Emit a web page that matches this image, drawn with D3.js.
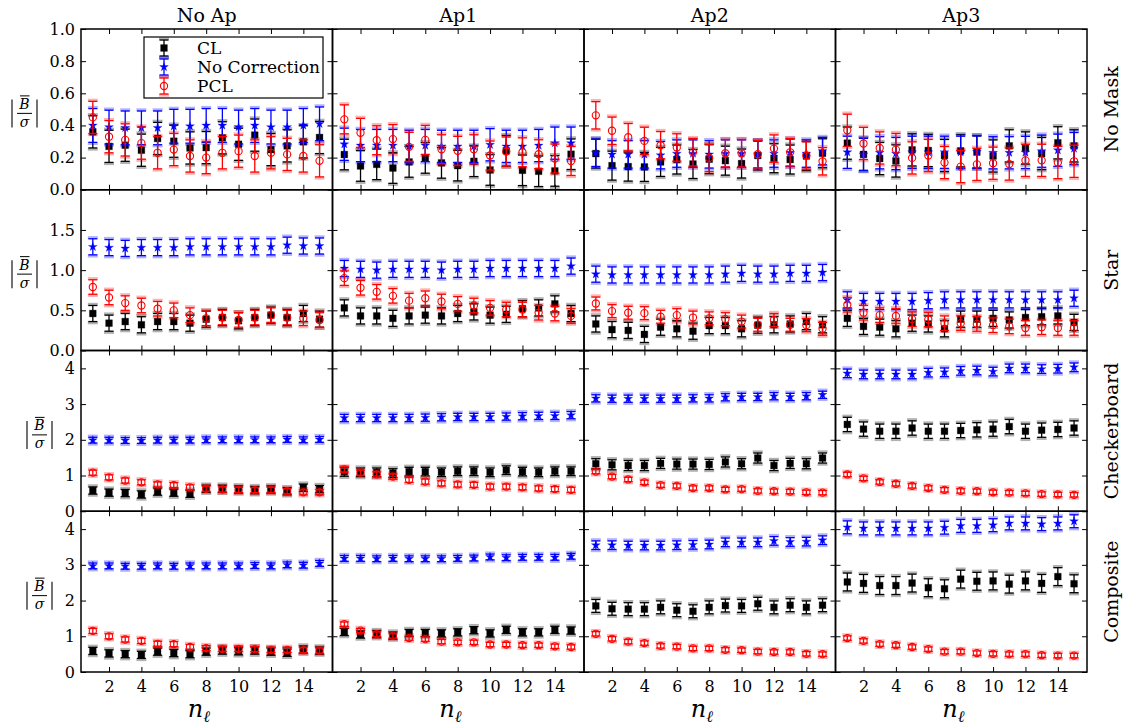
<!DOCTYPE html>
<html>
<head>
<meta charset="utf-8">
<script src="https://cdn.jsdelivr.net/npm/d3@7"></script>
<style>
  body { margin: 0; background: #fff; }
  text { font-family: "DejaVu Serif", serif; fill: #000; }
</style>
</head>
<body>
<svg id="chart" width="1128" height="727"></svg>
<script>
// ---- data ----------------------------------------------------------------
const nl = [1, 2, 3, 4, 5, 6, 7, 8, 9, 10, 11, 12, 13, 14, 15];
const apertures = ["No Ap", "Ap1", "Ap2", "Ap3"];
const masks = ["No Mask", "Star", "Checkerboard", "Composite"];
const seriesNames = ["CL", "No Correction", "PCL"];

const yMax = [1.0, 2.0, 4.5, 4.5];
const yTicks = [[0, 0.2, 0.4, 0.6, 0.8, 1.0], [0, 0.5, 1.0, 1.5], [0, 1, 2, 3, 4], [0, 1, 2, 3, 4]];
const yTickLabels = [["0.0", "0.2", "0.4", "0.6", "0.8", "1.0"], ["0.0", "0.5", "1.0", "1.5"],
                     ["0", "1", "2", "3", "4"], ["0", "1", "2", "3", "4"]];
const xTicks = [2, 4, 6, 8, 10, 12, 14];
const xTickLabels = ["2", "4", "6", "8", "10", "12", "14"];

// No Mask row: one array per aperture column
const clNoMask = [
  [0.36, 0.27, 0.277, 0.246, 0.319, 0.302, 0.26, 0.262, 0.323, 0.283, 0.34, 0.25, 0.273, 0.298, 0.325],
  [0.219, 0.148, 0.158, 0.135, 0.173, 0.198, 0.167, 0.15, 0.177, 0.123, 0.242, 0.121, 0.115, 0.117, 0.221],
  [0.225, 0.15, 0.144, 0.142, 0.173, 0.188, 0.16, 0.19, 0.181, 0.163, 0.213, 0.196, 0.188, 0.21, 0.227],
  [0.29, 0.22, 0.194, 0.179, 0.248, 0.244, 0.213, 0.242, 0.235, 0.21, 0.273, 0.26, 0.225, 0.292, 0.273]
];
const ncNoMask = [
  [0.40, 0.39, 0.385, 0.385, 0.385, 0.395, 0.395, 0.40, 0.40, 0.39, 0.40, 0.39, 0.39, 0.40, 0.41],
  [0.283, 0.275, 0.275, 0.275, 0.27, 0.275, 0.27, 0.27, 0.27, 0.28, 0.27, 0.27, 0.275, 0.29, 0.29],
  [0.23, 0.22, 0.22, 0.22, 0.215, 0.225, 0.225, 0.22, 0.225, 0.225, 0.22, 0.225, 0.23, 0.225, 0.24],
  [0.233, 0.22, 0.23, 0.225, 0.233, 0.233, 0.233, 0.233, 0.235, 0.23, 0.23, 0.232, 0.24, 0.246, 0.256]
];
const pclNoMask = [
  [0.45, 0.33, 0.31, 0.29, 0.23, 0.25, 0.21, 0.20, 0.23, 0.24, 0.21, 0.23, 0.22, 0.21, 0.18],
  [0.438, 0.354, 0.308, 0.315, 0.267, 0.31, 0.252, 0.242, 0.252, 0.213, 0.238, 0.233, 0.221, 0.194, 0.179],
  [0.463, 0.367, 0.327, 0.304, 0.277, 0.263, 0.233, 0.198, 0.227, 0.227, 0.221, 0.256, 0.233, 0.213, 0.177],
  [0.37, 0.288, 0.26, 0.25, 0.198, 0.213, 0.169, 0.144, 0.158, 0.165, 0.16, 0.183, 0.183, 0.169, 0.177]
];

// Star mask row
const clStar = [
  [0.46, 0.34, 0.36, 0.32, 0.36, 0.36, 0.34, 0.39, 0.41, 0.37, 0.41, 0.44, 0.41, 0.46, 0.39],
  [0.53, 0.43, 0.43, 0.40, 0.43, 0.44, 0.43, 0.46, 0.48, 0.44, 0.45, 0.52, 0.53, 0.58, 0.46],
  [0.33, 0.26, 0.25, 0.20, 0.29, 0.27, 0.24, 0.31, 0.31, 0.27, 0.315, 0.32, 0.33, 0.36, 0.32],
  [0.40, 0.30, 0.29, 0.27, 0.34, 0.33, 0.27, 0.39, 0.39, 0.40, 0.38, 0.41, 0.42, 0.43, 0.35]
];
const ncStar = [
  [1.29, 1.28, 1.27, 1.28, 1.28, 1.28, 1.29, 1.29, 1.29, 1.29, 1.29, 1.29, 1.31, 1.30, 1.30],
  [1.02, 1.01, 1.00, 1.01, 1.01, 1.01, 1.00, 1.01, 1.01, 1.02, 1.02, 1.02, 1.02, 1.02, 1.05],
  [0.95, 0.94, 0.94, 0.94, 0.94, 0.94, 0.94, 0.94, 0.95, 0.96, 0.95, 0.95, 0.96, 0.96, 0.97],
  [0.63, 0.61, 0.61, 0.61, 0.61, 0.62, 0.63, 0.63, 0.63, 0.63, 0.63, 0.63, 0.63, 0.63, 0.65]
];
const pclStar = [
  [0.79, 0.66, 0.59, 0.56, 0.52, 0.50, 0.44, 0.40, 0.41, 0.38, 0.41, 0.44, 0.41, 0.40, 0.38],
  [0.90, 0.78, 0.73, 0.68, 0.62, 0.65, 0.61, 0.58, 0.56, 0.53, 0.51, 0.51, 0.47, 0.46, 0.43],
  [0.585, 0.49, 0.47, 0.465, 0.42, 0.44, 0.41, 0.40, 0.39, 0.36, 0.32, 0.38, 0.32, 0.315, 0.27],
  [0.57, 0.47, 0.44, 0.43, 0.39, 0.385, 0.34, 0.34, 0.33, 0.315, 0.30, 0.28, 0.29, 0.28, 0.28]
];

// Checkerboard mask row
const clCheck = [
  [0.58, 0.52, 0.51, 0.47, 0.55, 0.52, 0.49, 0.63, 0.63, 0.61, 0.59, 0.61, 0.56, 0.66, 0.62],
  [1.10, 1.09, 1.09, 1.07, 1.11, 1.11, 1.09, 1.12, 1.12, 1.09, 1.15, 1.11, 1.09, 1.12, 1.12],
  [1.33, 1.30, 1.28, 1.28, 1.34, 1.32, 1.32, 1.31, 1.38, 1.33, 1.49, 1.28, 1.34, 1.33, 1.49],
  [2.43, 2.30, 2.24, 2.24, 2.33, 2.24, 2.24, 2.26, 2.28, 2.30, 2.37, 2.24, 2.27, 2.29, 2.33]
];
const ncCheck = [
  [1.99, 1.99, 1.98, 1.98, 1.99, 1.99, 1.99, 2.00, 2.00, 2.00, 2.00, 2.00, 2.01, 2.00, 2.01],
  [2.61, 2.61, 2.61, 2.61, 2.61, 2.62, 2.63, 2.64, 2.64, 2.64, 2.65, 2.66, 2.67, 2.67, 2.69],
  [3.16, 3.15, 3.15, 3.15, 3.15, 3.15, 3.16, 3.16, 3.19, 3.20, 3.20, 3.22, 3.20, 3.22, 3.26],
  [3.86, 3.83, 3.83, 3.83, 3.83, 3.88, 3.89, 3.93, 3.94, 3.91, 4.00, 4.00, 3.98, 3.99, 4.03]
];
const pclCheck = [
  [1.08, 0.95, 0.86, 0.81, 0.75, 0.73, 0.67, 0.63, 0.61, 0.60, 0.59, 0.60, 0.56, 0.53, 0.53],
  [1.17, 1.08, 1.03, 0.97, 0.88, 0.83, 0.78, 0.75, 0.74, 0.69, 0.69, 0.67, 0.64, 0.62, 0.60],
  [1.11, 0.97, 0.89, 0.81, 0.73, 0.71, 0.65, 0.65, 0.61, 0.62, 0.57, 0.56, 0.55, 0.53, 0.52],
  [1.03, 0.92, 0.82, 0.77, 0.71, 0.65, 0.60, 0.57, 0.56, 0.53, 0.52, 0.50, 0.48, 0.47, 0.46]
];

// Composite mask row
const clComp = [
  [0.59, 0.52, 0.50, 0.48, 0.57, 0.53, 0.50, 0.57, 0.60, 0.58, 0.60, 0.57, 0.54, 0.63, 0.60],
  [1.12, 1.05, 1.06, 1.02, 1.09, 1.09, 1.08, 1.11, 1.17, 1.08, 1.18, 1.11, 1.11, 1.18, 1.16],
  [1.85, 1.77, 1.76, 1.76, 1.81, 1.73, 1.70, 1.81, 1.86, 1.85, 1.91, 1.81, 1.87, 1.81, 1.87],
  [2.52, 2.48, 2.42, 2.42, 2.49, 2.36, 2.33, 2.60, 2.54, 2.55, 2.46, 2.55, 2.48, 2.67, 2.47]
];
const ncComp = [
  [2.97, 2.97, 2.96, 2.96, 2.97, 2.96, 2.97, 2.97, 2.97, 2.97, 2.98, 2.97, 3.00, 2.99, 3.04],
  [3.18, 3.18, 3.17, 3.18, 3.17, 3.17, 3.17, 3.18, 3.19, 3.22, 3.20, 3.21, 3.21, 3.21, 3.24],
  [3.55, 3.55, 3.54, 3.54, 3.54, 3.55, 3.56, 3.57, 3.63, 3.63, 3.63, 3.67, 3.64, 3.65, 3.69],
  [4.05, 4.02, 4.02, 4.02, 4.02, 4.02, 4.04, 4.09, 4.09, 4.11, 4.16, 4.16, 4.14, 4.16, 4.22]
];
const pclComp = [
  [1.15, 1.00, 0.91, 0.87, 0.79, 0.78, 0.70, 0.67, 0.65, 0.65, 0.64, 0.62, 0.62, 0.61, 0.60],
  [1.34, 1.16, 1.06, 1.01, 0.95, 0.92, 0.85, 0.83, 0.83, 0.77, 0.77, 0.75, 0.75, 0.72, 0.70],
  [1.07, 0.93, 0.85, 0.81, 0.73, 0.71, 0.66, 0.66, 0.62, 0.61, 0.57, 0.56, 0.56, 0.51, 0.50],
  [0.95, 0.87, 0.78, 0.75, 0.70, 0.64, 0.57, 0.57, 0.53, 0.51, 0.50, 0.50, 0.47, 0.46, 0.46]
];

// 1-sigma error half-widths: [mask row][aperture column]
const clErr  = [[0.10, 0.095, 0.09, 0.10], [0.10, 0.10, 0.10, 0.10], [0.10, 0.12, 0.14, 0.20], [0.10, 0.10, 0.18, 0.25]];
const ncErr  = [[0.105, 0.10, 0.085, 0.10], [0.10, 0.10, 0.10, 0.10], [0.08, 0.10, 0.10, 0.12], [0.08, 0.08, 0.12, 0.18]];
const pclErr = [[0.10, 0.09, 0.085, 0.10], [0.09, 0.09, 0.08, 0.09], [0.07, 0.07, 0.06, 0.06], [0.07, 0.06, 0.06, 0.06]];

// ---- layout --------------------------------------------------------------
const svg = d3.select("#chart");
const plotLeft = 81, plotTop = 29;
const pw = 251.5, ph = 160.75;
const xDomain = [0.27, 15.8];
const x = d3.scaleLinear().domain(xDomain).range([0, pw]);

const series = [
  { name: seriesNames[0], rows: [clNoMask, clStar, clCheck, clComp], err: clErr, color: "#000000", marker: "square" },
  { name: seriesNames[1], rows: [ncNoMask, ncStar, ncCheck, ncComp], err: ncErr, color: "#0000ff", marker: "star" },
  { name: seriesNames[2], rows: [pclNoMask, pclStar, pclCheck, pclComp], err: pclErr, color: "#ff0000", marker: "circle" }
];

const capHalf = 4.5;

function drawMarker(g, s, cx, cy) {
  if (s.marker === "circle") {
    g.append("circle").attr("cx", cx).attr("cy", cy).attr("r", 3.6)
      .attr("fill", "none").attr("stroke", s.color).attr("stroke-width", 1.1);
  } else {
    const sym = s.marker === "square" ? d3.symbolSquare : d3.symbolStar;
    const size = s.marker === "square" ? 46 : 24;
    g.append("path").attr("d", d3.symbol().type(sym).size(size)())
      .attr("transform", `translate(${cx},${cy})`)
      .attr("fill", s.color).attr("stroke", s.color).attr("stroke-width", 0.3);
  }
}

function drawErrorBar(g, color, cx, yTop, yBot) {
  g.append("line").attr("x1", cx).attr("x2", cx).attr("y1", yTop).attr("y2", yBot)
    .attr("stroke", color).attr("stroke-width", 1.3);
  [[yTop, -1.2], [yBot, 1.2]].forEach(([yy, off]) => {
    g.append("line").attr("x1", cx - capHalf - 0.5).attr("x2", cx + capHalf + 0.5)
      .attr("y1", yy + off).attr("y2", yy + off)
      .attr("stroke", color).attr("stroke-opacity", 0.3).attr("stroke-width", 3);
    g.append("line").attr("x1", cx - capHalf).attr("x2", cx + capHalf)
      .attr("y1", yy).attr("y2", yy)
      .attr("stroke", color).attr("stroke-width", 1.3);
  });
}

function styleAxis(a) {
  a.select(".domain").remove();
  a.selectAll(".tick line").attr("stroke", "#000").attr("stroke-width", 1);
  a.selectAll(".tick text").style("font-family", "'DejaVu Serif', serif")
    .attr("font-size", 16).attr("fill", "#000");
}

// y-axis label |B̄/σ|: bars and rules as lines, numerator and denominator as text
function drawYLabel(xRight, cy) {
  const x0 = xRight - 27;
  const g = svg.append("g").attr("transform", `translate(${x0},${cy})`);
  g.append("line").attr("x1", 1).attr("x2", 1).attr("y1", -14).attr("y2", 14)
    .attr("stroke", "#000").attr("stroke-width", 1.1);
  g.append("line").attr("x1", 26).attr("x2", 26).attr("y1", -14).attr("y2", 14)
    .attr("stroke", "#000").attr("stroke-width", 1.1);
  g.append("line").attr("x1", 9).attr("x2", 18.5).attr("y1", -17.5).attr("y2", -17.5)
    .attr("stroke", "#000").attr("stroke-width", 1);
  g.append("line").attr("x1", 6).attr("x2", 21).attr("y1", 0).attr("y2", 0)
    .attr("stroke", "#000").attr("stroke-width", 1);
  g.append("text").attr("x", 13.5).attr("y", -4.5).attr("text-anchor", "middle")
    .attr("font-size", 14).attr("font-style", "italic").text("B");
  g.append("text").attr("x", 13.5).attr("y", 13.5).attr("text-anchor", "middle")
    .attr("font-size", 14).attr("font-style", "italic").text("σ");
}

masks.forEach((mask, r) => {
  const y = d3.scaleLinear().domain([0, yMax[r]]).range([ph, 0]);
  apertures.forEach((ap, c) => {
    const g = svg.append("g").attr("transform", `translate(${plotLeft + c * pw},${plotTop + r * ph})`);

    // inward ticks on all four sides
    const left = g.append("g").call(d3.axisLeft(y).tickValues(yTicks[r]).tickSize(-5).tickPadding(6)
      .tickFormat((d, i) => c === 0 ? yTickLabels[r][i] : ""));
    styleAxis(left);
    const right = g.append("g").attr("transform", `translate(${pw},0)`)
      .call(d3.axisRight(y).tickValues(yTicks[r]).tickSize(-5).tickFormat(""));
    styleAxis(right);
    const topAx = g.append("g").call(d3.axisTop(x).tickValues(xTicks).tickSize(-5).tickFormat(""));
    styleAxis(topAx);
    const bottom = g.append("g").attr("transform", `translate(0,${ph})`)
      .call(d3.axisBottom(x).tickValues(xTicks).tickSize(-5).tickPadding(9)
        .tickFormat((d, i) => r === masks.length - 1 ? xTickLabels[i] : ""));
    styleAxis(bottom);

    // error bars and markers
    series.forEach(s => {
      const vals = s.rows[r][c];
      const e = s.err[r][c];
      const sg = g.append("g");
      vals.forEach((v, i) => {
        drawErrorBar(sg, s.color, x(nl[i]), y(v + e), y(v - e));
      });
      vals.forEach((v, i) => drawMarker(sg, s, x(nl[i]), y(v)));
    });

    // frame
    g.append("rect").attr("width", pw).attr("height", ph)
      .attr("fill", "none").attr("stroke", "#000").attr("stroke-width", 1.5);

    if (r === 0) {
      svg.append("text").attr("x", plotLeft + c * pw + pw / 2).attr("y", 22)
        .attr("text-anchor", "middle").attr("font-size", 19).text(ap);
    }
    if (r === masks.length - 1) {
      const t = svg.append("text").attr("x", plotLeft + c * pw + pw / 2 - 8).attr("y", 717)
        .attr("text-anchor", "middle");
      t.append("tspan").attr("font-size", 24).attr("font-style", "italic").text("n");
      t.append("tspan").attr("font-size", 16).attr("font-style", "italic").attr("dy", 5).text("ℓ");
    }
  });

  // row label on the right
  svg.append("text")
    .attr("transform", `translate(${plotLeft + 4 * pw + 31},${plotTop + r * ph + ph / 2}) rotate(-90)`)
    .attr("text-anchor", "middle").attr("font-size", 19).text(mask);

  // y label left of the tick labels
  const labelRight = r < 2 ? 38 : 53;
  drawYLabel(labelRight, plotTop + r * ph + ph / 2 + 4);
});

// legend in the first panel
const lg = svg.append("g").attr("transform", "translate(144,37)");
lg.append("rect").attr("width", 179).attr("height", 61)
  .attr("fill", "#fff").attr("stroke", "#000").attr("stroke-width", 1.2);
series.forEach((s, i) => {
  const cy = 11 + i * 19;
  drawErrorBar(lg, s.color, 20, cy - 8, cy + 8);
  drawMarker(lg, s, 20, cy);
  lg.append("text").attr("x", 53).attr("y", cy + 6).attr("font-size", 17).text(s.name);
});
</script>
</body>
</html>
